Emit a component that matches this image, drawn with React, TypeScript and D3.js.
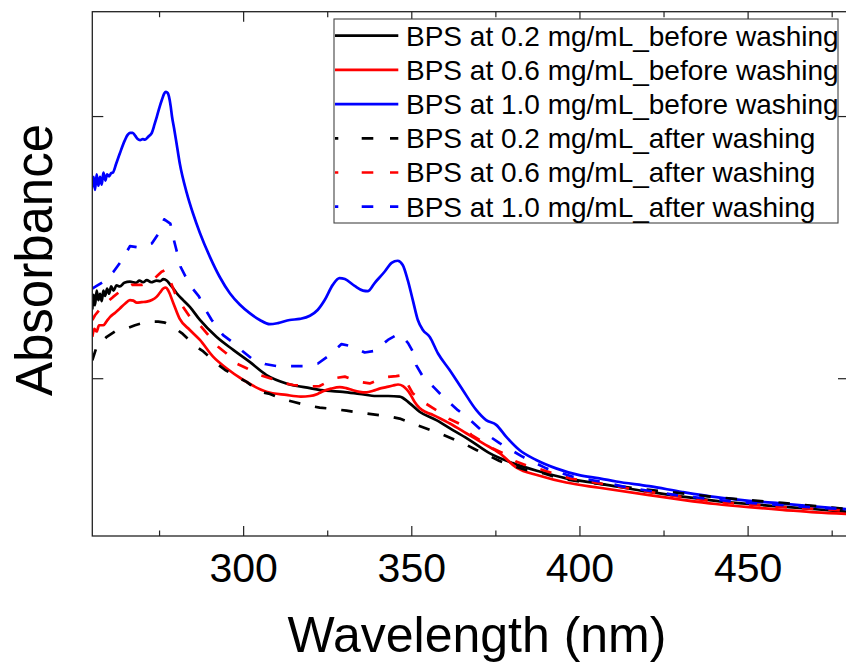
import React from "react";
import * as d3 from "d3";

type Pt = [number, number];

// wavelength (nm), absorbance (a.u.)
const bps02Before: Pt[] = [
  [255.0,0.632],[255.4,0.66],[255.8,0.64],[256.3,0.668],[256.8,0.65],[257.3,0.662],[257.8,0.648],[258.3,0.668],[258.8,0.658],[259.4,0.672],[260.0,0.662],[260.6,0.676],[261.3,0.668],[262.2,0.678],[263.2,0.676],[264.5,0.683],[266.2,0.685],[268,0.683],[269,0.687],[270.1,0.684],[271.2,0.688],[272.5,0.684],[274.1,0.687],[275.2,0.686],[276.1,0.690],[277.2,0.687],[278.1,0.680],[279.1,0.672],[280.1,0.663],[282,0.65],[284.0,0.637],[287.0,0.612],[291.9,0.580],[296.9,0.555],[301.8,0.532],[306.8,0.507],[312.7,0.491],[319.7,0.482],[324.6,0.477],[329.5,0.475],[334.5,0.471],[339.5,0.467],[343,0.467],[346.4,0.466],[349.4,0.453],[352.3,0.437],[357.3,0.421],[362.2,0.402],[367.2,0.383],[373.1,0.358],[380.0,0.339],[388.0,0.323],[395.9,0.310],[405.8,0.300],[420.6,0.284],[430.5,0.275],[440.4,0.267],[450.3,0.261],[460.2,0.256],[470.1,0.251],[480,0.246],
];

const bps06Before: Pt[] = [
  [255.0,0.580],[255.6,0.595],[256.3,0.590],[257.0,0.602],[258.3,0.602],[259.3,0.610],[260.3,0.618],[261.8,0.626],[263.2,0.634],[264.7,0.643],[266.2,0.650],[267.2,0.649],[268.2,0.645],[269.7,0.646],[271.2,0.647],[272.7,0.650],[274.1,0.656],[275.1,0.664],[276.1,0.672],[276.9,0.674],[277.6,0.668],[279.1,0.644],[281.0,0.614],[284.0,0.593],[287.0,0.574],[290.9,0.542],[294.9,0.520],[299.8,0.498],[306.8,0.475],[312.7,0.469],[317,0.466],[319.7,0.467],[322,0.471],[323.6,0.476],[326,0.481],[328.6,0.484],[330.5,0.482],[332.5,0.478],[334.5,0.475],[336.5,0.474],[338.5,0.477],[340.4,0.481],[342.4,0.484],[344.4,0.487],[345.9,0.489],[347.4,0.486],[348.4,0.480],[349.4,0.472],[350.8,0.456],[352.3,0.444],[354.3,0.436],[356.3,0.431],[361.2,0.415],[366.2,0.396],[371.1,0.377],[376.1,0.358],[381.0,0.331],[388.0,0.315],[395.9,0.302],[405.8,0.292],[420.6,0.278],[430.5,0.269],[440.4,0.261],[450.3,0.255],[460.2,0.250],[470.1,0.245],[480,0.242],
];

const bps10Before: Pt[] = [
  [255.0,0.865],[255.4,0.885],[255.8,0.86],[256.3,0.89],[256.8,0.868],[257.3,0.885],[257.8,0.87],[258.3,0.893],[258.9,0.878],[259.4,0.89],[260.0,0.886],[260.6,0.892],[261.1,0.893],[262.1,0.91],[263.2,0.930],[264.7,0.955],[265.5,0.965],[266.2,0.969],[267.0,0.969],[267.8,0.963],[268.5,0.957],[269.2,0.955],[270.0,0.957],[270.7,0.956],[271.7,0.962],[272.7,0.969],[273.5,0.985],[274.2,1.000],[275.0,1.018],[275.7,1.032],[276.4,1.044],[276.9,1.047],[277.4,1.045],[277.8,1.038],[278.3,1.02],[278.7,1.000],[279.3,0.978],[279.9,0.955],[281.0,0.911],[283.1,0.854],[284.9,0.816],[287.0,0.778],[290.0,0.732],[292.9,0.694],[295.9,0.663],[298.9,0.641],[301.8,0.625],[304.8,0.612],[307.8,0.604],[310.2,0.606],[313.7,0.612],[316.7,0.614],[319.7,0.620],[322.0,0.631],[324.1,0.650],[326.5,0.679],[328.5,0.692],[330.1,0.690],[333.0,0.677],[335.5,0.668],[336.9,0.667],[339.0,0.683],[341.9,0.704],[344.0,0.721],[345.8,0.725],[347.3,0.717],[348.8,0.688],[350.3,0.650],[351.8,0.612],[353.3,0.593],[355.3,0.580],[357.8,0.548],[361.2,0.517],[365.2,0.478],[369.2,0.440],[372.1,0.421],[375.1,0.412],[378.1,0.389],[382.0,0.364],[387.0,0.345],[392.9,0.329],[399.8,0.316],[405.8,0.310],[410.8,0.304],[420.6,0.295],[430.4,0.284],[440.5,0.274],[450.3,0.267],[460.1,0.262],[470.2,0.256],[480,0.251],
];

const bps02After: Pt[] = [
  [255.0,0.535],[256.3,0.561],[259.3,0.580],[261.7,0.590],[265.2,0.596],[267.7,0.602],[271.6,0.609],[274.6,0.609],[276.6,0.607],[279.6,0.596],[281.6,0.587],[286.0,0.561],[288.0,0.552],[292.0,0.529],[294.4,0.517],[297.9,0.504],[300.9,0.494],[304.8,0.475],[307.8,0.471],[311.7,0.461],[314.7,0.456],[319.7,0.448],[322.6,0.445],[327.1,0.442],[330.6,0.439],[335.0,0.435],[338.5,0.432],[343.4,0.428],[346.4,0.424],[350.8,0.413],[354.3,0.405],[358.3,0.396],[361.2,0.388],[366.2,0.374],[369.2,0.364],[373.6,0.351],[376.1,0.343],[381.0,0.332],[384.0,0.326],[388.9,0.320],[391.9,0.314],[396.9,0.307],[399.8,0.304],[420.6,0.288],[440.5,0.274],[460.1,0.263],[480,0.251],
];

const bps06After: Pt[] = [
  [255.0,0.612],[255.8,0.621],[257.8,0.637],[261.2,0.656],[263.7,0.669],[266.7,0.679],[269.7,0.679],[272.1,0.684],[274.1,0.695],[275.6,0.704],[276.6,0.707],[278.1,0.688],[279.6,0.663],[282.0,0.637],[284.0,0.618],[287.0,0.602],[289.0,0.587],[292.4,0.561],[294.9,0.548],[297.9,0.529],[300.9,0.520],[304.8,0.507],[307.8,0.501],[311.7,0.492],[314.7,0.488],[319.7,0.485],[322.6,0.486],[327.1,0.501],[330.1,0.504],[334.5,0.494],[337.5,0.491],[342.4,0.503],[345.4,0.505],[347.3,0.507],[348.9,0.488],[350.3,0.472],[354.3,0.452],[357.3,0.440],[361.2,0.423],[364.2,0.414],[367.7,0.393],[370.2,0.383],[374.1,0.367],[377.1,0.358],[381.0,0.342],[384.0,0.335],[388.9,0.326],[391.9,0.320],[396.9,0.310],[399.8,0.307],[420.6,0.284],[440.5,0.265],[460.2,0.255],[480,0.248],
];

const bps10After: Pt[] = [
  [255.0,0.672],[255.8,0.675],[258.3,0.685],[261.3,0.704],[263.8,0.726],[266.2,0.753],[269.2,0.750],[272.7,0.758],[274.7,0.777],[276.4,0.804],[278.2,0.796],[279.2,0.766],[280.0,0.746],[281.2,0.714],[282.7,0.695],[284.7,0.673],[286.7,0.657],[289.0,0.628],[290.5,0.612],[293.9,0.583],[296.4,0.571],[299.8,0.552],[302.3,0.539],[306.3,0.528],[309.8,0.524],[313.7,0.524],[317.7,0.524],[322.1,0.529],[325.6,0.545],[329.1,0.566],[332.0,0.562],[336.0,0.550],[339.0,0.553],[342.9,0.574],[345.4,0.583],[346.5,0.585],[348.9,0.568],[350.3,0.552],[351.3,0.526],[353.3,0.504],[356.8,0.482],[359.2,0.466],[363.7,0.440],[366.2,0.428],[371.1,0.399],[376.1,0.377],[383.0,0.351],[390.0,0.329],[397.9,0.313],[405.8,0.304],[413.8,0.293],[428.6,0.278],[446.4,0.265],[473.2,0.253],[480,0.251],
];

const xMajorTicks = [300, 350, 400, 450];
const xMinorTicks = [275, 325, 375, 425, 475];
const yMajorTicks = [0.5, 1.0];

const seriesList = [
  { name: "BPS at 0.2 mg/mL_before washing", data: bps02Before, color: "#000000", dashed: false },
  { name: "BPS at 0.6 mg/mL_before washing", data: bps06Before, color: "#ff0000", dashed: false },
  { name: "BPS at 1.0 mg/mL_before washing", data: bps10Before, color: "#0000ff", dashed: false },
  { name: "BPS at 0.2 mg/mL_after washing", data: bps02After, color: "#000000", dashed: true },
  { name: "BPS at 0.6 mg/mL_after washing", data: bps06After, color: "#ff0000", dashed: true },
  { name: "BPS at 1.0 mg/mL_after washing", data: bps10After, color: "#0000ff", dashed: true },
];

const W = 846;
const H = 663;
const left = 92.3;
const right = 849;
const top = 11.7;
const bottom = 536;
const FONT = "'Liberation Sans', Arial, Helvetica, sans-serif";

export default function App() {
  const x = d3.scaleLinear().domain([255, 480]).range([left, right]);
  const y = d3.scaleLinear().domain([0.2, 1.2]).range([bottom, top]);

  const solidLine = d3
    .line<Pt>()
    .x((d) => x(d[0]))
    .y((d) => y(d[1]))
    .curve(d3.curveMonotoneX);
  const dashLine = d3
    .line<Pt>()
    .x((d) => x(d[0]))
    .y((d) => y(d[1]))
    .curve(d3.curveLinear);

  const axisColor = "#222";
  const legX = 334;
  const legY = 19;
  const legW = 504;
  const legH = 204;
  const rowY0 = 35.7;
  const rowStep = 34.2;

  return (
    <svg
      width={W}
      height={H}
      style={{ position: "absolute", left: 0, top: 0, background: "#fff" }}
      fontFamily={FONT}
    >
      <rect x={0} y={0} width={W} height={H} fill="#fff" />
      <defs>
        <clipPath id="plotClip">
          <rect x={left} y={top} width={right - left} height={bottom - top} />
        </clipPath>
      </defs>

      <g clipPath="url(#plotClip)">
        {seriesList.map((s, i) => (
          <path
            key={i}
            d={(s.dashed ? dashLine : solidLine)(s.data) || ""}
            fill="none"
            stroke={s.color}
            strokeWidth={2.7}
            strokeDasharray={s.dashed ? "11.5,15" : undefined}
            strokeLinejoin="round"
          />
        ))}
      </g>

      {/* frame */}
      <rect
        x={left}
        y={top}
        width={right - left}
        height={bottom - top}
        fill="none"
        stroke={axisColor}
        strokeWidth={1.3}
      />

      {/* x ticks bottom & top */}
      {xMajorTicks.map((t) => (
        <g key={"xM" + t}>
          <line x1={x(t)} x2={x(t)} y1={bottom} y2={bottom - 10} stroke={axisColor} strokeWidth={1.2} />
          <line x1={x(t)} x2={x(t)} y1={top} y2={top + 10} stroke={axisColor} strokeWidth={1.2} />
          <text x={x(t)} y={582} fontSize={41} textAnchor="middle" fill="#000">
            {t}
          </text>
        </g>
      ))}
      {xMinorTicks.map((t) => (
        <g key={"xm" + t}>
          <line x1={x(t)} x2={x(t)} y1={bottom} y2={bottom - 5.5} stroke={axisColor} strokeWidth={1.2} />
          <line x1={x(t)} x2={x(t)} y1={top} y2={top + 5.5} stroke={axisColor} strokeWidth={1.2} />
        </g>
      ))}
      {yMajorTicks.map((t) => (
        <g key={"yM" + t}>
          <line x1={left} x2={left + 11} y1={y(t)} y2={y(t)} stroke={axisColor} strokeWidth={1.2} />
          <line x1={right} x2={right - 11} y1={y(t)} y2={y(t)} stroke={axisColor} strokeWidth={1.2} />
        </g>
      ))}

      {/* axis titles */}
      <text x={477} y={652} fontSize={50} textAnchor="middle" fill="#000">
        Wavelength (nm)
      </text>
      <text
        transform={`translate(52,260) rotate(-90)`}
        fontSize={51}
        textAnchor="middle"
        fill="#000"
      >
        Absorbance
      </text>

      {/* legend */}
      <rect x={legX} y={legY} width={legW} height={legH} fill="#fff" stroke="#444" strokeWidth={1.1} />
      {seriesList.map((s, i) => {
        const ry = rowY0 + i * rowStep;
        return (
          <g key={"leg" + i}>
            <line
              x1={legX + 1}
              x2={398.3}
              y1={ry}
              y2={ry}
              stroke={s.color}
              strokeWidth={2.7}
              strokeDasharray={s.dashed ? "3.3 23.4 11.6 16.7 8.3" : undefined}
            />
            <text x={406} y={ry + 9.8} fontSize={28} fill="#000">
              {s.name}
            </text>
          </g>
        );
      })}
    </svg>
  );
}
